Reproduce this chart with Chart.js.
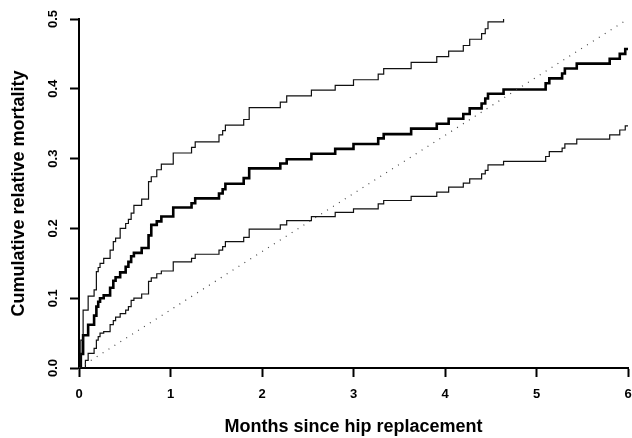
<!DOCTYPE html>
<html>
<head>
<meta charset="utf-8">
<script src="https://cdn.jsdelivr.net/npm/chart.js@4.4.0/dist/chart.umd.min.js"></script>
<style>
  body { margin: 0; background: #fff; }
  #wrap { width: 632px; height: 438px; }
</style>
</head>
<body>
<div id="wrap"><canvas id="mortChart" width="632" height="438"></canvas></div>
<script>
// event times (months) shared by the estimate and its bounds
const months = [0, 0.02, 0.045, 0.07, 0.10, 0.165, 0.19, 0.21, 0.23, 0.27, 0.34, 0.375, 0.40, 0.45, 0.51, 0.54, 0.57, 0.60, 0.685, 0.76,
  0.79, 0.85, 0.90, 1.03, 1.23, 1.27, 1.53, 1.57, 1.60, 1.80, 1.86, 2.20, 2.27, 2.54, 2.80, 3.00, 3.27, 3.33, 3.63, 3.91,
  4.04, 4.20, 4.27, 4.40, 4.44, 4.47, 4.64, 5.10, 5.14, 5.28, 5.31, 5.44, 5.80, 5.91, 5.97, 6.00];

const estimate = [0, 0.020, 0.047, 0.047, 0.062, 0.075, 0.088, 0.095, 0.100, 0.104, 0.115, 0.125, 0.130, 0.137, 0.145, 0.152, 0.160, 0.165, 0.172, 0.190,
  0.205, 0.210, 0.217, 0.230, 0.236, 0.243, 0.250, 0.256, 0.264, 0.272, 0.286, 0.293, 0.299, 0.307, 0.314, 0.321, 0.329, 0.335, 0.343, 0.350,
  0.357, 0.364, 0.372, 0.379, 0.386, 0.393, 0.399, 0.408, 0.415, 0.422, 0.429, 0.436, 0.443, 0.450, 0.457, 0.457];

const lowerBound = [0, 0, 0, 0.011, 0.021, 0.028, 0.040, 0.045, 0.050, 0.052, 0.062, 0.068, 0.073, 0.078, 0.083, 0.088, 0.097, 0.100, 0.106, 0.124,
  0.129, 0.135, 0.139, 0.152, 0.157, 0.163, 0.169, 0.174, 0.181, 0.187, 0.199, 0.205, 0.211, 0.217, 0.223, 0.228, 0.235, 0.240, 0.246, 0.252,
  0.259, 0.265, 0.271, 0.278, 0.283, 0.291, 0.296, 0.303, 0.310, 0.315, 0.321, 0.328, 0.334, 0.341, 0.347, 0.347];

const upperBound = [0, 0.040, 0.083, 0.083, 0.103, 0.112, 0.138, 0.144, 0.150, 0.157, 0.169, 0.181, 0.186, 0.200, 0.207, 0.213, 0.222, 0.233, 0.242, 0.267,
  0.274, 0.284, 0.292, 0.308, 0.316, 0.324, 0.334, 0.340, 0.348, 0.356, 0.373, 0.381, 0.390, 0.398, 0.405, 0.413, 0.421, 0.429, 0.438, 0.446,
  0.454, 0.462, 0.471, 0.479, 0.486, 0.496, 0.505, null, null, null, null, null, null, null, null, null];

// reference line (dotted)
const refMonths = [0, 6];
const refValues = [0, 0.5];

const xTickLabels = ['0', '1', '2', '3', '4', '5', '6'];
const yTickLabels = ['0.0', '0.1', '0.2', '0.3', '0.4', '0.5'];

function toPoints(xs, ys) {
  return xs.map((x, i) => ({ x: x, y: ys[i] }));
}

// keep the plot box fixed, ignore label overhang padding
function noOverhang(scale) {
  scale.paddingLeft = 0;
  scale.paddingRight = 0;
  scale.paddingTop = 0;
  scale.paddingBottom = 0;
}

const tickFont = { family: 'Liberation Sans, Arial, sans-serif', size: 13, weight: 'bold' };
const titleFont = { family: 'Liberation Sans, Arial, sans-serif', size: 18, weight: 'bold' };

const ctx = document.getElementById('mortChart').getContext('2d');
new Chart(ctx, {
  type: 'line',
  data: {
    datasets: [
      {
        label: 'Reference',
        data: toPoints(refMonths, refValues),
        borderColor: '#444',
        borderWidth: 1.2,
        borderDash: [1, 6],
        pointRadius: 0,
        fill: false
      },
      {
        label: 'Upper',
        data: toPoints(months, upperBound),
        borderColor: '#111',
        borderWidth: 1.2,
        stepped: true,
        pointRadius: 0,
        spanGaps: false,
        clip: 0,
        fill: false
      },
      {
        label: 'Lower',
        data: toPoints(months, lowerBound),
        borderColor: '#111',
        borderWidth: 1.2,
        stepped: true,
        pointRadius: 0,
        clip: 0,
        fill: false
      },
      {
        label: 'Estimate',
        data: toPoints(months, estimate),
        borderColor: '#000',
        borderWidth: 2.6,
        stepped: true,
        pointRadius: 0,
        clip: 0,
        fill: false
      }
    ]
  },
  options: {
    responsive: false,
    animation: false,
    layout: { padding: { top: 19, right: 4, bottom: 0, left: 0 } },
    plugins: {
      legend: { display: false },
      tooltip: { enabled: false }
    },
    scales: {
      x: {
        type: 'linear',
        min: 0,
        max: 6,
        afterFit: (scale) => { scale.height = 70; noOverhang(scale); },
        ticks: {
          stepSize: 1,
          color: '#000',
          font: tickFont,
          padding: 10,
          maxRotation: 0,
          callback: (v) => xTickLabels[v]
        },
        grid: { drawOnChartArea: false, drawTicks: true, tickLength: 9, tickColor: '#000', tickWidth: 2 },
        border: { display: true, color: '#000', width: 2 },
        title: {
          display: true,
          text: 'Months since hip replacement',
          color: '#000',
          font: titleFont,
          padding: { top: 0, bottom: 0 }
        }
      },
      y: {
        type: 'linear',
        min: 0,
        max: 0.5,
        afterFit: (scale) => { scale.width = 79; noOverhang(scale); },
        ticks: {
          stepSize: 0.1,
          color: '#000',
          font: tickFont,
          padding: 8,
          minRotation: 90,
          maxRotation: 90,
          crossAlign: 'center',
          callback: (v) => yTickLabels[Math.round(v * 10)]
        },
        grid: { drawOnChartArea: false, drawTicks: true, tickLength: 9, tickColor: '#000', tickWidth: 2 },
        border: { display: true, color: '#000', width: 2 },
        title: {
          display: true,
          text: 'Cumulative relative mortality',
          color: '#000',
          font: titleFont,
          padding: { top: 8, bottom: 0 }
        }
      }
    }
  }
});
</script>
</body>
</html>
